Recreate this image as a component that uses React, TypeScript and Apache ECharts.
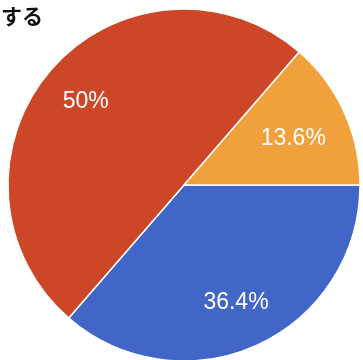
import React, { useEffect, useRef } from "react";
import * as echarts from "echarts";

const categories = ["青", "赤", "橙"];
const values = [8, 11, 3];
const colors = ["#4266C7", "#CD4628", "#F0A13B"];
const labelOffsets = [[-2, -2], [0, 0], [-9, 6]];
const titleText = "する";

export default function App() {
  const ref = useRef<HTMLDivElement>(null);
  useEffect(() => {
    if (!ref.current) return;
    const chart = echarts.init(ref.current, null, { renderer: "svg" });
    const data = categories.map((name, i) => ({
      name,
      value: values[i],
      itemStyle: { color: colors[i] },
    }));
    chart.setOption({
      animation: false,
      graphic: [
        {
          type: "text",
          left: 1,
          top: 4,
          style: {
            text: titleText,
            fontSize: 21,
            fontWeight: "bold",
            fill: "#111",
            fontFamily: "Noto Sans CJK JP",
          },
        },
      ],
      series: [
        {
          type: "pie",
          center: [184, 185],
          radius: [0, 176],
          startAngle: 0,
          clockwise: true,
          silent: true,
          label: { show: false },
          labelLine: { show: false },
          itemStyle: { borderColor: "#ffffff", borderWidth: 1.5 },
          data,
        },
        {
          type: "pie",
          center: [184, 185],
          radius: [78, 176],
          startAngle: 0,
          clockwise: true,
          silent: true,
          percentPrecision: 1,
          label: {
            show: true,
            position: "inside",
            formatter: "{d}%",
            color: "#ffffff",
            fontSize: 23,
            fontFamily: "Liberation Sans",
          },
          labelLine: { show: false },
          data: categories.map((name, i) => ({
            name,
            value: values[i],
            itemStyle: { color: "rgba(0,0,0,0)" },
            label: { offset: labelOffsets[i] },
          })),
        },
      ],
    });
    return () => chart.dispose();
  }, []);
  return <div ref={ref} style={{ width: 363, height: 360, position: "fixed", left: 0, top: 0 }} />;
}
